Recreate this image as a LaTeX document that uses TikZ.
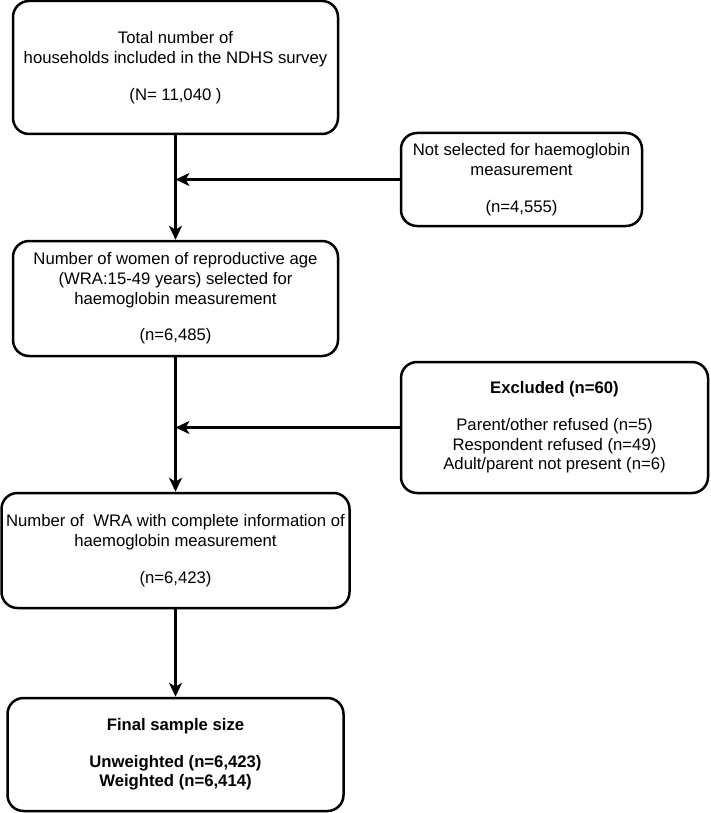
\documentclass[tikz,border=0pt]{standalone}
\usepackage{fontspec}
\setmainfont{Liberation Sans}
\usetikzlibrary{arrows.meta}
\begin{document}
\begin{tikzpicture}[x=1pt,y=-1pt,
 box/.style={draw, line width=2.5pt, rounded corners=16pt, align=center, font=\fontsize{16.7}{19.7}\selectfont, inner sep=0pt},
 arr/.style={line width=2.5pt, -{Stealth[length=14pt,width=13pt,inset=4pt]}}]
\useasboundingbox (0,0) rectangle (710,813);
\node[box, minimum width=325pt, minimum height=133pt] (b1) at (175.5,67.5) {Total number of\\households included in the NDHS survey\\[17pt](N= 11,040 )};
\node[box, minimum width=241pt, minimum height=93pt] (b2) at (521.5,179.5) {Not selected for haemoglobin\\measurement\\[17pt](n=4,555)};
\node[box, minimum width=325pt, minimum height=115pt] (b3) at (175.5,298.5) {Number of women of reproductive age\\(WRA:15-49 years) selected for\\haemoglobin measurement\\[17pt](n=6,485)};
\node[box, minimum width=307pt, minimum height=131pt] (b4) at (554.5,427.5) {\textbf{Excluded (n=60)}\\[17pt]Parent/other refused (n=5)\\Respondent refused (n=49)\\Adult/parent not present (n=6)};
\node[box, minimum width=348pt, minimum height=115pt] (b5) at (175.5,550.5) {Number of~ WRA with complete information of\\haemoglobin measurement\\[17pt](n=6,423)};
\node[box, minimum width=336pt, minimum height=113pt, font=\fontsize{16.7}{19.7}\selectfont\bfseries] (b6) at (175.5,754.5) {Final sample size\\[17pt]Unweighted (n=6,423)\\Weighted (n=6,414)};
\coordinate (j1) at (b1.south |- b2.west);
\coordinate (j2) at (b3.south |- b4.west);
\draw[arr] (b1.south) -- (b3.north);
\draw[arr] (b2.west) -- (j1);
\draw[arr] (b3.south) -- (b5.north);
\draw[arr] (b4.west) -- (j2);
\draw[arr] (b5.south) -- (b6.north);
\end{tikzpicture}
\end{document}
